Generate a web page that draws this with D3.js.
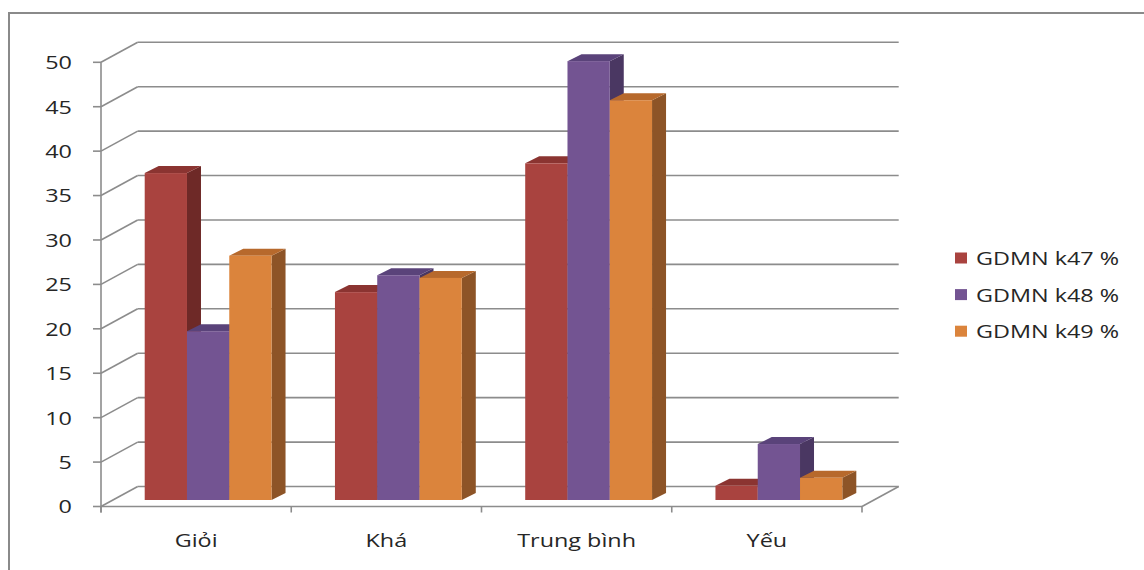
<!DOCTYPE html>
<html><head><meta charset="utf-8">
<script src="https://cdn.jsdelivr.net/npm/d3@7"></script>
<style>html,body{margin:0;padding:0;background:#fff;}svg{display:block;}</style>
</head><body>
<script>
const categories = ["Giỏi", "Khá", "Trung bình", "Yếu"];
const seriesNames = ["GDMN k47 %", "GDMN k48 %", "GDMN k49 %"];
const k47 = [36.8, 23.4, 37.9, 1.6];
const k48 = [19.0, 25.3, 49.4, 6.3];
const k49 = [27.5, 25.0, 45.0, 2.5];
const yTicks = [0, 5, 10, 15, 20, 25, 30, 35, 40, 45, 50];

const seriesValues = [k47, k48, k49];
const colors = [
  {front: "#A9433F", top: "#8B3431", side: "#6E2927"},
  {front: "#735492", top: "#5A437A", side: "#4A3762"},
  {front: "#DB843C", top: "#B7692C", side: "#8D5427"}
];

const W = 1144, H = 570;
const svg = d3.select("body").append("svg").attr("width", W).attr("height", H);

// frame
svg.append("rect").attr("x", 9).attr("y", 13).attr("width", 1200).attr("height", 700)
  .attr("fill", "none").attr("stroke", "#8a8a8a").attr("stroke-width", 2);

const x0 = 101, x1 = 862;
const y = d3.scaleLinear().domain([0, 50]).range([506.5, 62.3]);
const x = d3.scaleBand().domain(categories).range([x0, x1]).paddingInner(0).paddingOuter(0);
const xs = d3.scaleBand().domain(d3.range(3)).range([0, x.bandwidth()]).paddingInner(0).paddingOuter(0.75);

const DX = 36.7, DY = -20; // full depth offset
const bf = {dx: 12, dy: -6.5};   // bar front plane offset
const bd = {dx: 14, dy: -7};     // bar depth

const gridColor = "#8c8c8c";
const g = svg.append("g");

// back wall gridlines
yTicks.forEach(t => {
  g.append("line").attr("x1", x0 + DX).attr("x2", x1 + DX)
    .attr("y1", y(t) + DY).attr("y2", y(t) + DY)
    .attr("stroke", gridColor).attr("stroke-width", 1.6);
  // side wall diagonals
  g.append("line").attr("x1", x0).attr("x2", x0 + DX)
    .attr("y1", y(t)).attr("y2", y(t) + DY)
    .attr("stroke", gridColor).attr("stroke-width", 1.6);
});
// floor front edge and right edge
g.append("line").attr("x1", x0).attr("x2", x1).attr("y1", y(0)).attr("y2", y(0))
  .attr("stroke", gridColor).attr("stroke-width", 1.6);
g.append("line").attr("x1", x1).attr("x2", x1 + DX).attr("y1", y(0)).attr("y2", y(0) + DY)
  .attr("stroke", gridColor).attr("stroke-width", 1.6);

// value axis
g.append("line").attr("x1", x0).attr("x2", x0).attr("y1", y(50)).attr("y2", y(0) + 6)
  .attr("stroke", gridColor).attr("stroke-width", 1.6);
yTicks.forEach(t => {
  g.append("line").attr("x1", x0 - 8).attr("x2", x0).attr("y1", y(t)).attr("y2", y(t))
    .attr("stroke", gridColor).attr("stroke-width", 1.6);
  g.append("text").attr("transform", `translate(72,${y(t)}) scale(1.3,1)`)
    .attr("text-anchor", "end").attr("dominant-baseline", "central")
    .attr("font-family", "Open Sans").attr("font-size", 18).attr("fill", "#262626")
    .text(t);
});
// category ticks
const bounds = categories.map(c => x(c)).concat([x1]);
bounds.forEach(b => {
  g.append("line").attr("x1", b).attr("x2", b).attr("y1", y(0)).attr("y2", y(0) + 6)
    .attr("stroke", gridColor).attr("stroke-width", 1.6);
});
categories.forEach(c => {
  g.append("text").attr("transform", `translate(${x(c) + x.bandwidth() / 2},547) scale(1.3,1)`)
    .attr("text-anchor", "middle")
    .attr("font-family", "Open Sans").attr("font-size", 18).attr("fill", "#262626")
    .text(c);
});

// bars
const bars = svg.append("g");
categories.forEach((c, ci) => {
  seriesValues.forEach((vals, si) => {
    const v = vals[ci];
    const xl = x(c) + xs(si) + bf.dx;
    const xr = xl + xs.bandwidth();
    const yb = y(0) + bf.dy;
    const yt = y(v) + bf.dy;
    const col = colors[si];
    // side face
    bars.append("path").attr("d",
      `M${xr},${yt} L${xr + bd.dx},${yt + bd.dy} L${xr + bd.dx},${yb + bd.dy} L${xr},${yb} Z`)
      .attr("fill", col.side);
    // top face
    bars.append("path").attr("d",
      `M${xl},${yt} L${xl + bd.dx},${yt + bd.dy} L${xr + bd.dx},${yt + bd.dy} L${xr},${yt} Z`)
      .attr("fill", col.top);
    // front face
    bars.append("rect").attr("x", xl).attr("y", yt).attr("width", xr - xl).attr("height", yb - yt)
      .attr("fill", col.front);
  });
});

// legend
const lg = svg.append("g");
seriesNames.forEach((n, i) => {
  const by = 265 + i * 36.6;
  lg.append("rect").attr("x", 955).attr("y", by - 12.5).attr("width", 12).attr("height", 11)
    .attr("fill", colors[i].front);
  lg.append("text").attr("transform", `translate(976,${by}) scale(1.3,1)`)
    .attr("font-family", "Open Sans").attr("font-size", 18).attr("fill", "#262626")
    .text(n);
});
</script>
</body></html>
